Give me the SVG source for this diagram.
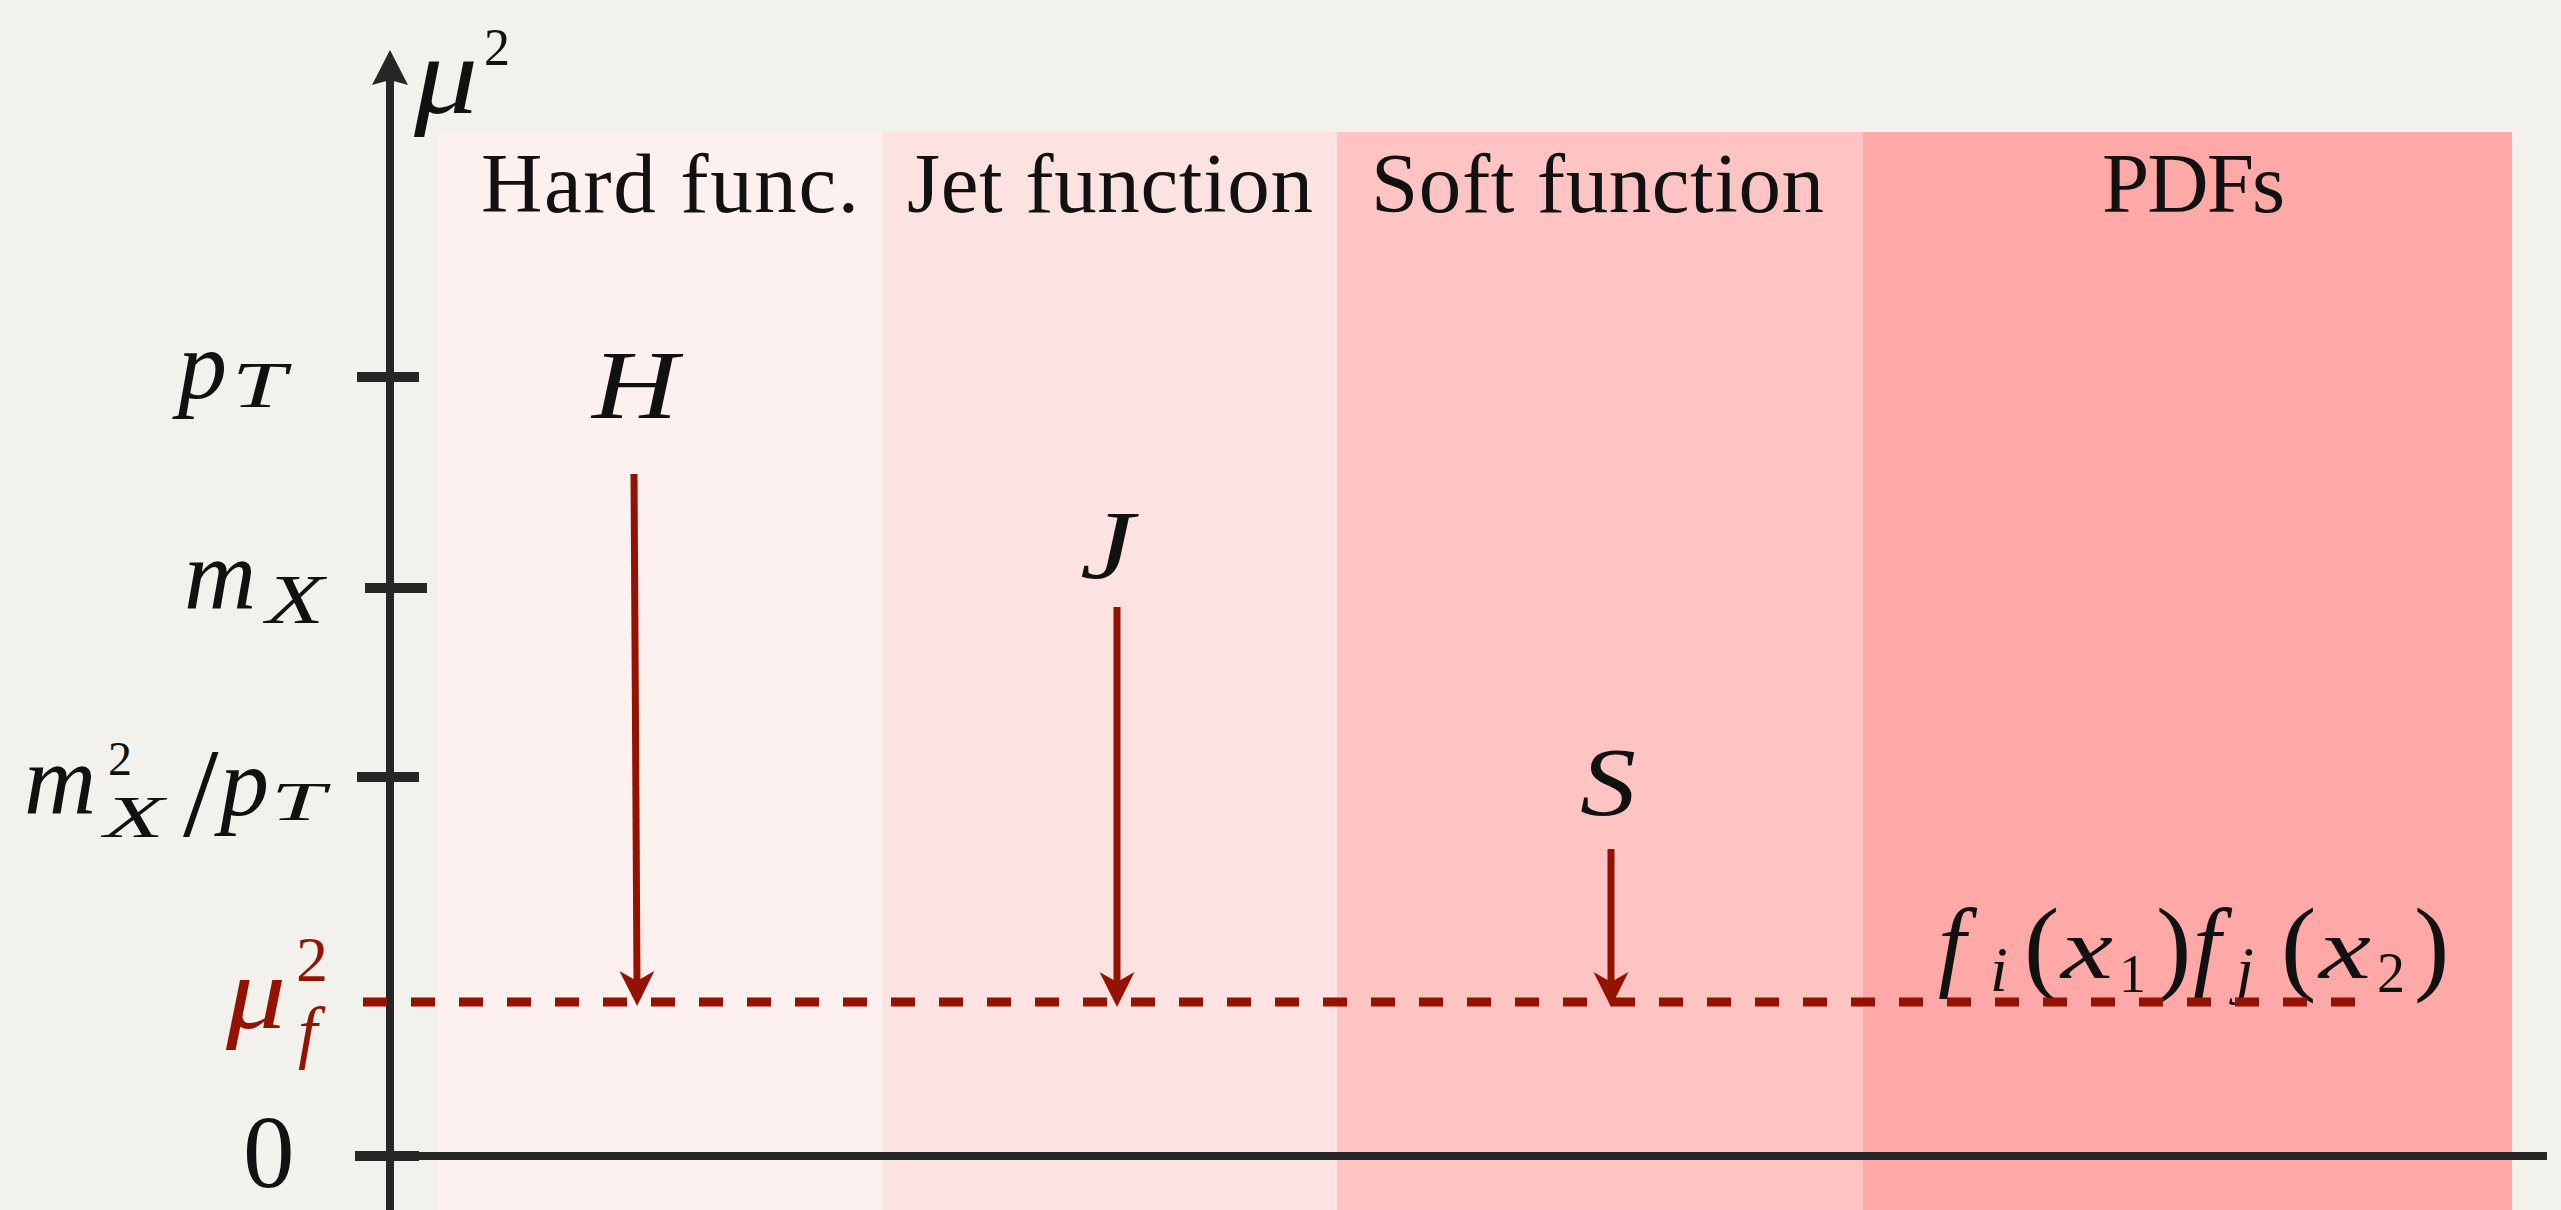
<svg xmlns="http://www.w3.org/2000/svg" width="2561" height="1210" viewBox="0 0 2561 1210">
<style>
.lbl{font-family:"Liberation Serif","Times New Roman",serif;font-size:85px;fill:#111}
.m{font-family:"Liberation Serif","Times New Roman",serif;font-style:italic;fill:#111}
.d{font-family:"Liberation Serif","Times New Roman",serif;fill:#111}
.red{fill:#941300}
.axis{stroke:#262626;stroke-width:8;fill:none}
.tick{stroke:#262626;stroke-width:10;fill:none}
.flow{stroke:#941300;stroke-width:7;fill:none;marker-end:url(#ah)}
.dash{stroke:#941300;stroke-width:9;fill:none;stroke-dasharray:24 24}
</style>
<defs>
<marker id="ah" viewBox="0 -18 36 36" markerWidth="36" markerHeight="36" refX="10" refY="0" orient="auto" markerUnits="userSpaceOnUse">
<path d="M0,-17.5 L35,0 L0,17.5 L10,0 Z" fill="#941300"/>
</marker>
</defs>
<rect x="0" y="0" width="2561" height="1210" fill="#f3f1eb"/>

<g id="panel-hard">
<rect x="438" y="132" width="444" height="1078" fill="#fdf1f0"/>
<text class="lbl" x="481" y="212" textLength="378">Hard func.</text>
</g>
<g id="panel-jet">
<rect x="882" y="132" width="455" height="1078" fill="#fde2e2"/>
<text class="lbl" x="907" y="212" textLength="406">Jet function</text>
</g>
<g id="panel-soft">
<rect x="1337" y="132" width="526" height="1078" fill="#fec3c3"/>
<text class="lbl" x="1371" y="212" textLength="453">Soft function</text>
</g>
<g id="panel-pdfs">
<rect x="1863" y="132" width="649" height="1078" fill="#fea8a7"/>
<text class="lbl" x="2102" y="212" textLength="183">PDFs</text>
</g>

<g id="axes">
<line class="axis" x1="390" y1="1210" x2="390" y2="78"/>
<path d="M390,50 L408,85 L390,80 L372,85 Z" fill="#262626"/>
<line class="axis" x1="390" y1="1156" x2="2547" y2="1156"/>
<line class="tick" x1="357" y1="377" x2="419" y2="377"/>
<line class="tick" x1="365" y1="588" x2="427" y2="588"/>
<line class="tick" x1="357" y1="777" x2="419" y2="777"/>
<line class="tick" x1="355" y1="1156" x2="419" y2="1156"/>
<text class="m" x="414" y="113" font-size="112" textLength="64" lengthAdjust="spacingAndGlyphs">μ</text>
<text class="d" x="484" y="65" font-size="52">2</text>
</g>

<g id="tick-labels">
<text class="m" x="178" y="398" font-size="98">p</text>
<text class="m" x="232" y="407" font-size="66" textLength="54" lengthAdjust="spacingAndGlyphs">T</text>
<text class="m" x="184" y="608" font-size="100">m</text>
<text class="m" x="266" y="623" font-size="70" textLength="58" lengthAdjust="spacingAndGlyphs">X</text>
<text class="m" x="24" y="813" font-size="100">m</text>
<text class="d" x="108" y="775" font-size="48">2</text>
<text class="m" x="104" y="837" font-size="60" textLength="60" lengthAdjust="spacingAndGlyphs">X</text>
<text class="d" x="183" y="836" font-size="128">/</text>
<text class="m" x="220" y="815" font-size="98">p</text>
<text class="m" x="271" y="820" font-size="54" textLength="54" lengthAdjust="spacingAndGlyphs">T</text>
<text class="m red" x="226" y="1028" font-size="103" textLength="60" lengthAdjust="spacingAndGlyphs">μ</text>
<text class="d red" x="296" y="981" font-size="64">2</text>
<text class="m red" x="298" y="1055" font-size="70">f</text>
<text class="d" x="243" y="1187" font-size="103">0</text>
</g>

<g id="node-H">
<text class="m" x="592" y="418" font-size="98" textLength="86" lengthAdjust="spacingAndGlyphs">H</text>
</g>
<g id="node-J">
<text class="m" x="1080" y="578" font-size="98" textLength="54" lengthAdjust="spacingAndGlyphs">J</text>
</g>
<g id="node-S">
<text class="m" x="1580" y="815" font-size="98" textLength="56" lengthAdjust="spacingAndGlyphs">S</text>
</g>
<g id="node-pdf">
<text class="m" x="1938" y="978" font-size="100">f</text>
<text class="m" x="1990" y="991" font-size="64">i</text>
<text class="d" x="2024" y="981" font-size="106">(</text>
<text class="m" x="2061" y="978" font-size="86" textLength="52" lengthAdjust="spacingAndGlyphs">x</text>
<text class="d" x="2119" y="992" font-size="54">1</text>
<text class="d" x="2156" y="981" font-size="106">)</text>
<text class="m" x="2193" y="978" font-size="100">f</text>
<text class="m" x="2236" y="991" font-size="64">j</text>
<text class="d" x="2281" y="981" font-size="106">(</text>
<text class="m" x="2319" y="978" font-size="86" textLength="52" lengthAdjust="spacingAndGlyphs">x</text>
<text class="d" x="2377" y="992" font-size="56">2</text>
<text class="d" x="2414" y="981" font-size="106">)</text>
</g>

<g id="connectors">
<line class="dash" x1="363" y1="1002" x2="2355" y2="1002"/>
<line class="flow" x1="634" y1="474" x2="637" y2="981"/>
<line class="flow" x1="1117" y1="607" x2="1117" y2="982"/>
<line class="flow" x1="1611" y1="849" x2="1611" y2="982"/>
</g>
</svg>
